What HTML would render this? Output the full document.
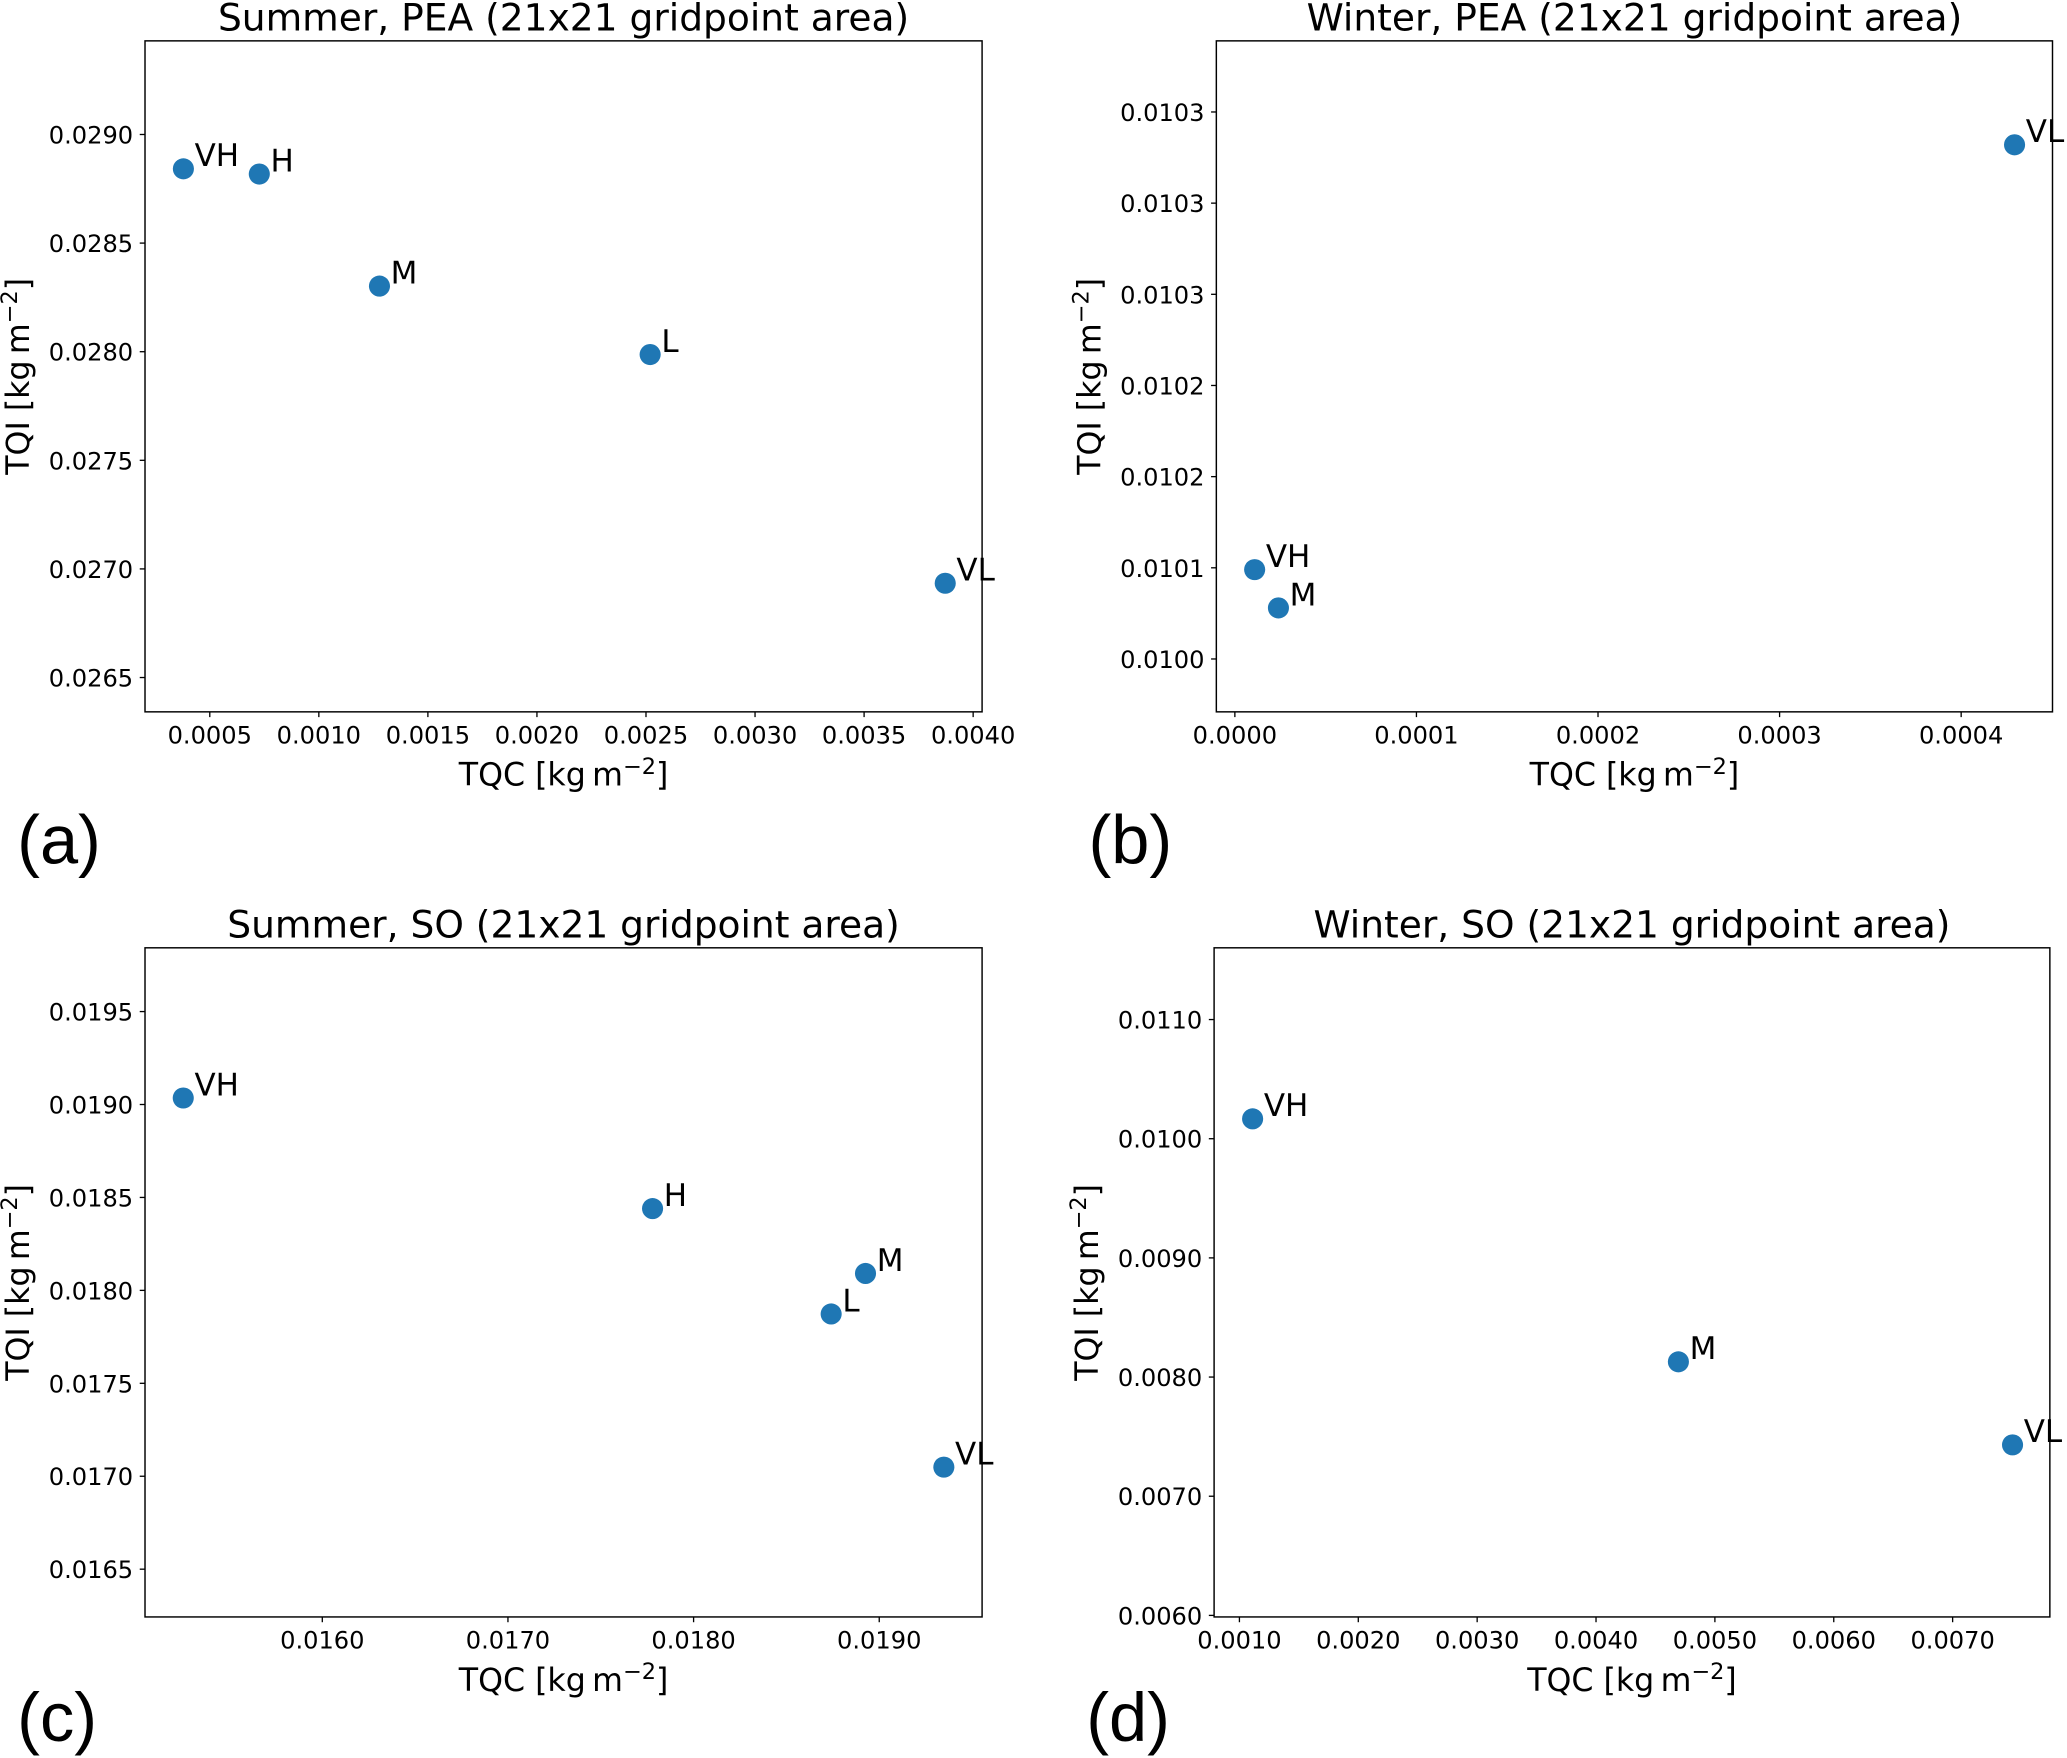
<!DOCTYPE html>
<html><head><meta charset="utf-8"><style>
html,body{margin:0;padding:0;background:#fff;}
svg{display:block;}
text{font-family:"DejaVu Sans","Liberation Sans",sans-serif;fill:#000;}
</style></head>
<body>
<svg id="fig" width="2067" height="1758" viewBox="0 0 1568 1333.6" preserveAspectRatio="none" xmlns="http://www.w3.org/2000/svg"></svg>
<script>
// Panel (a) Summer, PEA
const aLabels = ["VH","H","M","L","VL"];
const aTQC = [0.000379,0.000727,0.001278,0.002519,0.003872];
const aTQI = [0.028842,0.028818,0.028302,0.027987,0.026934];
const aXTicks = [0.0005,0.0010,0.0015,0.0020,0.0025,0.0030,0.0035,0.0040];
const aXTickLabels = ["0.0005","0.0010","0.0015","0.0020","0.0025","0.0030","0.0035","0.0040"];
const aYTicks = [0.0265,0.0270,0.0275,0.0280,0.0285,0.0290];
const aYTickLabels = ["0.0265","0.0270","0.0275","0.0280","0.0285","0.0290"];
// Panel (b) Winter, PEA
const bLabels = ["VH","M","VL"];
const bTQC = [0.0000109,0.000024,0.0004294];
const bTQI = [0.010049,0.010028,0.010282];
const bXTicks = [0.0000,0.0001,0.0002,0.0003,0.0004];
const bXTickLabels = ["0.0000","0.0001","0.0002","0.0003","0.0004"];
const bYTicks = [0.01000,0.01005,0.01010,0.01015,0.01020,0.01025,0.01030];
const bYTickLabels = ["0.0100","0.0101","0.0102","0.0102","0.0103","0.0103","0.0103"];
// Panel (c) Summer, SO
const cLabels = ["VH","H","M","L","VL"];
const cTQC = [0.015251,0.017779,0.018926,0.018741,0.019348];
const cTQI = [0.019035,0.018440,0.018091,0.017873,0.017049];
const cXTicks = [0.0160,0.0170,0.0180,0.0190];
const cXTickLabels = ["0.0160","0.0170","0.0180","0.0190"];
const cYTicks = [0.0165,0.0170,0.0175,0.0180,0.0185,0.0190,0.0195];
const cYTickLabels = ["0.0165","0.0170","0.0175","0.0180","0.0185","0.0190","0.0195"];
// Panel (d) Winter, SO
const dLabels = ["VH","M","VL"];
const dTQC = [0.001111,0.004693,0.007504];
const dTQI = [0.010167,0.008128,0.007431];
const dXTicks = [0.0010,0.0020,0.0030,0.0040,0.0050,0.0060,0.0070];
const dXTickLabels = ["0.0010","0.0020","0.0030","0.0040","0.0050","0.0060","0.0070"];
const dYTicks = [0.0060,0.0070,0.0080,0.0090,0.0100,0.0110];
const dYTickLabels = ["0.0060","0.0070","0.0080","0.0090","0.0100","0.0110"];

const NS = "http://www.w3.org/2000/svg";
const svg = document.getElementById('fig');
function mk(tag, attrs, parent, txt){
  const e = document.createElementNS(NS, tag);
  for (const k in attrs) e.setAttribute(k, attrs[k]);
  if (txt !== undefined) e.textContent = txt;
  (parent||svg).appendChild(e);
  return e;
}
function yLabel(g, x, y){
  const t = mk('text',{x:x,y:y,'font-size':24,'text-anchor':'middle',transform:'rotate(-90 '+x+' '+y+')'},g);
  
  
  t.appendChild(document.createTextNode('TQI [kg\u2009m'));
  mk('tspan',{dy:-9,'font-size':17},t,'\u22122');
  mk('tspan',{dy:9},t,']');
}
function xLabel(g, x, y){
  const t = mk('text',{x:x,y:y,'font-size':24,'text-anchor':'middle'},g);
  
  
  t.appendChild(document.createTextNode('TQC [kg\u2009m'));
  mk('tspan',{dy:-9,'font-size':17},t,'\u22122');
  mk('tspan',{dy:9},t,']');
}
function panel(cfg){
  const g = mk('g',{});
  
  
  const L=cfg.box[0], R=cfg.box[1], T=cfg.box[2], B=cfg.box[3];
  const sx = v => L + (v - cfg.xlim[0])/(cfg.xlim[1]-cfg.xlim[0])*(R-L);
  const sy = v => B - (v - cfg.ylim[0])/(cfg.ylim[1]-cfg.ylim[0])*(B-T);
  const frame = mk('rect',{x:L,y:T,width:R-L,height:B-T,fill:'none',stroke:'#000','stroke-width':1.1},g);
  
  
  cfg.xt.forEach((v,i)=>{
    const x=sx(v);
    const tk = mk('line',{x1:x,x2:x,y1:B,y2:B+4,stroke:'#000','stroke-width':1},g);
    
    
    const tl = mk('text',{x:x,y:B+24,'font-size':18.3,'text-anchor':'middle'},g,cfg.xtl[i]);
    
    
  });
  cfg.yt.forEach((v,i)=>{
    const y=sy(v);
    const tk = mk('line',{x1:L-4,x2:L,y1:y,y2:y,stroke:'#000','stroke-width':1},g);
    
    
    const tl = mk('text',{x:L-9,y:y+6.8,'font-size':18.3,'text-anchor':'end'},g,cfg.ytl[i]);
    
    
  });
  cfg.xs.forEach((v,i)=>{
    const cx=sx(v), cy=sy(cfg.ys[i]);
    const c = mk('circle',{cx:cx,cy:cy,r:8,fill:'#1f77b4'},g);
    
    
    const t = mk('text',{x:cx+8.5,y:cy-2,'font-size':23.5},g,cfg.labels[i]);
    
    
  });
  const ti = mk('text',{x:(L+R)/2,y:T-8,'font-size':28.5,'text-anchor':'middle'},g,cfg.title);
  
  
  xLabel(g,(L+R)/2,B+56);
  yLabel(g,L-88,(T+B)/2);
  const pl = mk('text',{x:L-97,y:B+cfg.tagdy,'font-size':52,style:'font-family:"Liberation Sans",sans-serif'},g,cfg.tag);
  
  
}
panel({name:'panel-a',box:[110,745,31,540],xlim:[0.000203,0.004041],ylim:[0.026342,0.029431],
  xt:aXTicks,xtl:aXTickLabels,yt:aYTicks,ytl:aYTickLabels,xs:aTQC,ys:aTQI,labels:aLabels,
  title:'Summer, PEA (21x21 gridpoint area)',tag:'(a)',tagdy:115});
panel({name:'panel-b',box:[922.7,1557,31,540],xlim:[-0.0000102,0.0004503],ylim:[0.009971,0.010339],
  xt:bXTicks,xtl:bXTickLabels,yt:bYTicks,ytl:bYTickLabels,xs:bTQC,ys:bTQI,labels:bLabels,
  title:'Winter, PEA (21x21 gridpoint area)',tag:'(b)',tagdy:115});
panel({name:'panel-c',box:[110,745,719,1226.6],xlim:[0.015045,0.019554],ylim:[0.016243,0.019843],
  xt:cXTicks,xtl:cXTickLabels,yt:cYTicks,ytl:cYTickLabels,xs:cTQC,ys:cTQI,labels:cLabels,
  title:'Summer, SO (21x21 gridpoint area)',tag:'(c)',tagdy:94});
panel({name:'panel-d',box:[921,1555,719,1226.6],xlim:[0.000787,0.007818],ylim:[0.005987,0.011602],
  xt:dXTicks,xtl:dXTickLabels,yt:dYTicks,ytl:dYTickLabels,xs:dTQC,ys:dTQI,labels:dLabels,
  title:'Winter, SO (21x21 gridpoint area)',tag:'(d)',tagdy:94});
</script>
</body></html>
